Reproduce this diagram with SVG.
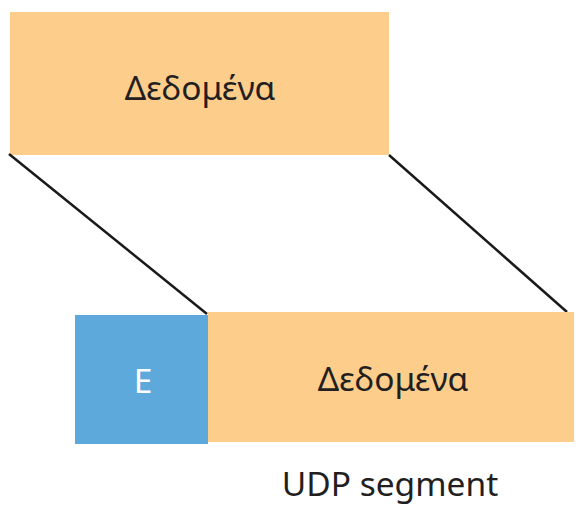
<svg xmlns="http://www.w3.org/2000/svg" width="583" height="510" viewBox="0 0 583 510">
<style>
.o{fill:#FDCD8B}
.b{fill:#5DA9DB}
.t{font-family:"Noto Sans","DejaVu Sans",sans-serif;font-size:33.5px;fill:#231F20;text-anchor:middle}
.w{fill:#ffffff}
.c line{stroke:#1a1a1a;stroke-width:2.5}
</style>
<rect width="583" height="510" fill="#ffffff"/>
<g id="data-top"><rect class="o" x="10" y="12" width="379" height="143"/><text class="t" x="200" y="100">Δεδομένα</text></g>
<g class="c" id="connectors"><line x1="9" y1="154" x2="207" y2="314"/><line x1="389" y1="155" x2="567" y2="312"/></g>
<g id="header"><rect class="b" x="75" y="315" width="133" height="129"/><text class="t w" x="143" y="393">E</text></g>
<g id="data-bottom"><rect class="o" x="208" y="312" width="366" height="130"/><text class="t" x="393" y="391">Δεδομένα</text></g>
<g id="label"><text class="t" x="390" y="496">UDP segment</text></g>
</svg>
